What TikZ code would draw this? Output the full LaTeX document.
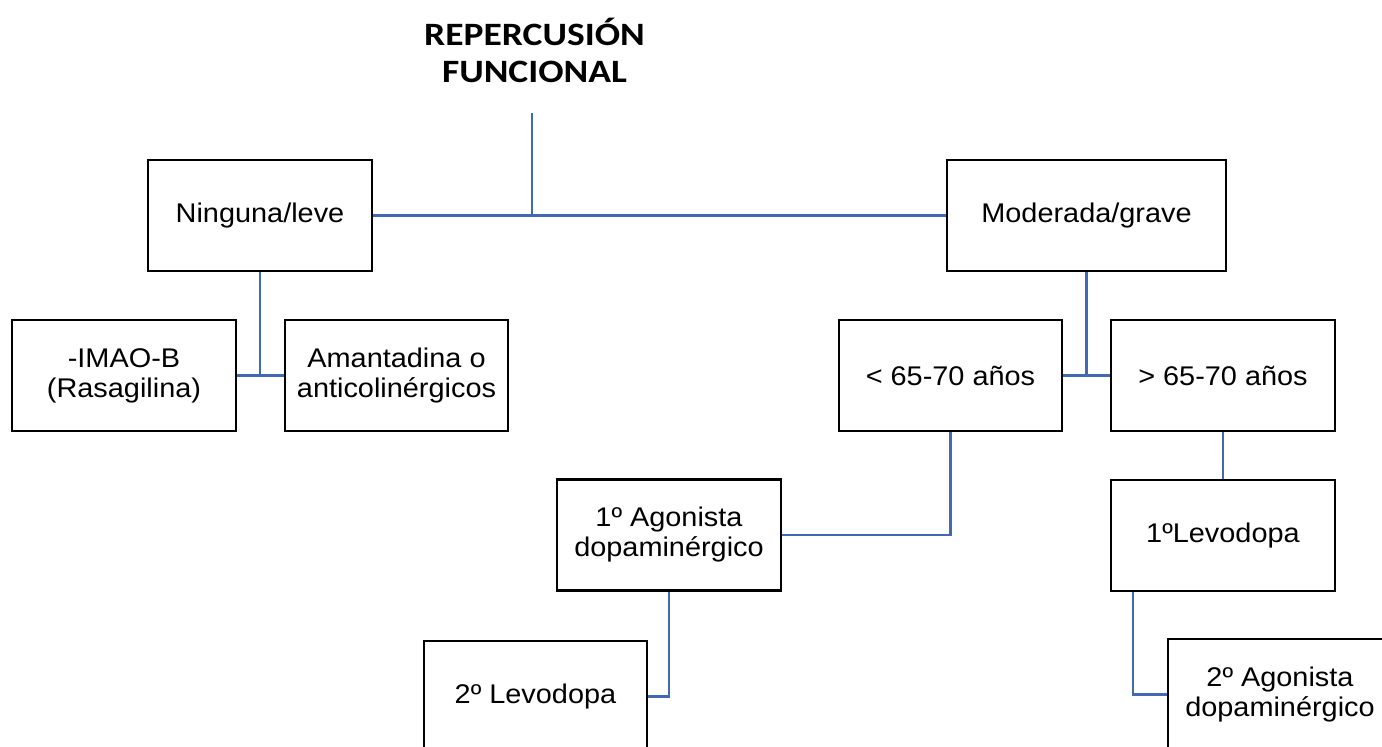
\documentclass[tikz,border=0pt]{standalone}
\usepackage{fontspec}
\setmainfont{Liberation Sans}[FakeStretch=1.07]
\newfontfamily\titlefont{Carlito}[FakeStretch=1.15]
\definecolor{linkblue}{HTML}{4169B4}
\tikzset{
  box/.style={draw=black, line width=2.5pt, fill=white, minimum height=111pt, inner sep=0pt, align=center,
    font=\fontsize{27}{30}\selectfont},
  link/.style={draw=linkblue, line width=2.5pt},
}
\begin{document}
\begin{tikzpicture}[x=1pt,y=-1pt]
\useasboundingbox (0,0) rectangle (1382,747);
\clip (0,0) rectangle (1382,747);
\node[anchor=base, align=center, inner sep=0pt, font=\titlefont\bfseries\fontsize{32.6}{37}\selectfont] (title) at (534.5,82) {REPERCUSIÓN\\FUNCIONAL};
\coordinate (stem) at (532,113);
\node[box, minimum width=224pt] (n1) at (260,215.5) {Ninguna/leve};
\node[box, minimum width=279pt] (n2) at (1086.5,215.5) {Moderada/grave};
\node[box, minimum width=224pt] (n3) at (124,375.5) {-IMAO-B\\(Rasagilina)};
\node[box, minimum width=223pt] (n4) at (396.5,375.5) {Amantadina o\\anticolinérgicos};
\node[box, minimum width=223pt] (n5) at (950.5,375.5) {< 65-70 años};
\node[box, minimum width=224pt] (n6) at (1223,375.5) {> 65-70 años};
\node[box, minimum width=224pt] (n7) at (669,535) {1º Agonista\\dopaminérgico};
\node[box, minimum width=223pt] (n8) at (535.5,696.5) {2º Levodopa};
\node[box, minimum width=224pt] (n9) at (1223,535.5) {1ºLevodopa};
\node[box, minimum width=224pt] (n10) at (1280,694.5) {2º Agonista\\dopaminérgico};
\draw[link] (n1.east) -- (n2.west);
\draw[link] (stem) -- (stem |- n1.east);
\draw[link] (n1.south) -- (n1.south |- n3.east);
\draw[link] (n3.east) -- (n4.west);
\draw[link] (n2.south) -- (n2.south |- n5.east);
\draw[link] (n5.east) -- (n6.west);
\draw[link] (n7.east) -| (n5.south);
\draw[link] (n7.south) |- (n8.east);
\draw[link] (n6.south) -- (n9.north);
\draw[link] ([xshift=23pt]n9.south west) |- (n10.west);
\end{tikzpicture}
\end{document}
